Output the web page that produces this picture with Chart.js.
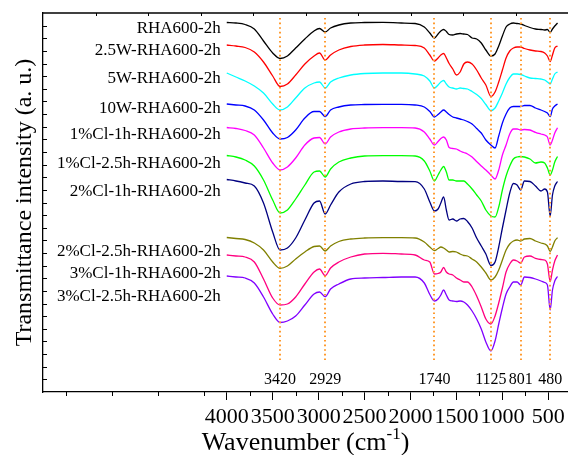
<!DOCTYPE html>
<html>
<head>
<meta charset="utf-8">
<title>FTIR spectra</title>
<script src="https://cdn.jsdelivr.net/npm/chart.js@4.4.1/dist/chart.umd.min.js"></script>
<style>
  html, body { margin: 0; padding: 0; background: #fff; }
  canvas { display: block; }
</style>
</head>
<body>
<canvas id="ftir" width="568" height="455"></canvas>
<script>
// FTIR spectra of RHA600-2h samples, stacked with vertical offsets (a. u.)

const wavenumbers = [4000, 3900, 3800, 3700, 3600, 3500, 3420, 3340, 3250, 3150,
    3050, 2990, 2929, 2870, 2780, 2650, 2500, 2300, 2100, 1950,
    1850, 1790, 1740, 1700, 1670, 1640, 1610, 1580, 1540, 1500,
    1460, 1420, 1380, 1330, 1280, 1230, 1180, 1125, 1080, 1040,
    1000, 960, 920, 880, 840, 801, 760, 700, 640, 580,
    540, 510, 480, 455, 430, 400];

const rha600 = [369.5, 369, 367.5, 363, 351, 339, 333.5, 336, 344, 353,
    361, 363.5, 360, 364, 367, 369, 369.5, 369.7, 369, 368.5,
    365, 359, 354, 358, 361, 362.5, 360.5, 357.5, 357, 358,
    358.5, 358, 357.5, 354, 353, 349, 342, 336, 338, 346,
    356, 365, 368, 369, 368.5, 368, 366.5, 364.5, 363, 362.5,
    362, 362.5, 359.5, 363, 366, 369];

const w25 = [347, 346, 344.5, 340, 330, 316, 305.5, 308, 317, 328,
    336, 339, 332, 337, 342, 345.5, 347, 347.5, 347, 346.5,
    344, 337, 331, 334, 337, 338.5, 334, 328.5, 323, 317,
    320, 328, 330, 328, 322, 314, 307, 295.5, 300, 310,
    322, 334, 341, 344, 345, 345, 343.5, 342, 341, 340.5,
    339, 336, 330.5, 337, 344, 346];

const w5 = [319, 315, 311, 306, 299, 288, 282, 285, 294, 304,
    309, 310, 304, 310, 314, 317, 318.5, 319, 319, 318,
    316, 311, 304, 307, 310, 311.5, 308, 305, 304, 303,
    304, 303.5, 303, 300.5, 297.5, 293.5, 287.5, 281.5, 284, 291,
    299, 308, 314.5, 318, 318, 317.5, 316, 314, 313.5, 313,
    312, 310, 308, 313, 318, 320];

const w10 = [288, 287, 286, 282, 272, 259, 253, 254.5, 262, 274,
    280.5, 280.5, 275.5, 282, 285, 287, 287.5, 287.7, 287.7, 287,
    285, 280.5, 275, 277.5, 280, 282, 280, 277.5, 275, 274,
    273, 272, 270.5, 268, 263.5, 259, 252, 247, 244, 256,
    269, 278, 284, 285.5, 285.5, 285.5, 286.5, 286.5, 284, 282,
    280.5, 279, 275.3, 283, 286, 288];

const cl1_1h = [264.5, 263.5, 261.5, 257, 244, 229, 222, 225, 234, 247,
    254, 254.5, 248, 255, 260, 263, 264, 264.3, 264.3, 264,
    260, 253, 247, 250.5, 253.5, 255, 252, 244.5, 243.5, 243,
    241, 239.5, 238, 235, 230.5, 226, 222, 217, 213, 222,
    237, 247, 258, 263, 263, 262, 262.5, 262, 259.7, 258,
    257, 255, 247, 252, 259, 264.3];

const cl1_25h = [236.5, 235, 232, 226, 212, 192, 179, 182, 193, 207,
    220, 221, 215, 223, 230, 234, 236, 236.3, 236.3, 236,
    231, 221, 211, 217, 222, 225.5, 220, 212, 212, 211,
    211, 211, 208, 203, 197, 191, 182, 176, 175, 185,
    202, 216, 226, 233, 235, 235.5, 235, 233, 229, 230,
    229, 224, 217, 222, 230, 235.5];

const cl2_1h = [212.5, 211, 209, 206, 189, 160, 142, 144, 154, 172,
    189, 191, 178, 187, 200, 208, 210.5, 211, 210.5, 210.3,
    203, 190, 181, 183, 189, 195, 182, 172, 173, 171,
    173, 173.5, 170.5, 164, 154, 146, 138, 126.5, 130, 145,
    164, 182, 199, 208.5, 207, 202, 211, 210.5, 206, 201,
    203, 200, 176, 197, 206, 210.5];

const cl2_25h = [154.5, 153.5, 152.5, 149, 142, 130, 123.7, 126, 133, 140,
    145.5, 146, 141, 146, 150.5, 153, 154, 154.3, 154.3, 154,
    150, 145, 141.3, 143.5, 145, 144, 142, 140, 140.5, 140,
    138, 136.5, 136, 133, 130, 125, 119, 112, 115, 122,
    132, 142, 148, 151, 152, 151, 153, 153.5, 151, 149,
    148, 146, 140.5, 145, 151, 154.3];

const cl3_1h = [137, 136, 135, 130, 113, 94, 87, 88, 95, 108,
    120, 123, 116.3, 124, 130, 135, 138, 138.7, 138, 137,
    132, 130, 118, 118.5, 120, 124.5, 120, 118, 117, 114,
    112, 110, 110, 105, 96, 85, 73, 68, 76, 89,
    104, 120, 128, 132, 131, 128.7, 135, 136, 133.7, 132.5,
    132, 128, 110.3, 122, 131, 137];

const cl3_25h = [116, 115, 114, 109, 95, 78, 69.5, 71, 76, 87,
    98, 100, 95.3, 103, 108, 113, 114, 114.5, 115, 115,
    109, 97.5, 91, 93, 97, 102, 97, 92, 91, 90.5,
    91, 90, 87, 81, 73, 63, 50, 41, 51, 68,
    84, 98, 105, 110, 110, 107, 115, 114.5, 113, 111,
    109.5, 107, 82, 102, 111, 115.5];

const sampleNames = ['RHA600-2h', '2.5W-RHA600-2h', '5W-RHA600-2h', '10W-RHA600-2h',
    '1%Cl-1h-RHA600-2h', '1%Cl-2.5h-RHA600-2h', '2%Cl-1h-RHA600-2h',
    '2%Cl-2.5h-RHA600-2h', '3%Cl-1h-RHA600-2h', '3%Cl-2.5h-RHA600-2h'];
const sampleSeries = [rha600, w25, w5, w10, cl1_1h, cl1_25h, cl2_1h, cl2_25h, cl3_1h, cl3_25h];
const sampleColors = ['#000000', '#ff0000', '#00ffff', '#0000ff', '#ff00ff',
    '#00ff00', '#000080', '#808000', '#ff0080', '#8000ff'];

// marked absorption bands (cm-1)
const bands = [3420, 2929, 1740, 1125, 801, 480];
const xTickValues = [500, 1000, 1500, 2000, 2500, 3000, 3500, 4000];

const SERIF = "'Liberation Serif', 'Times New Roman', serif";
Chart.defaults.font.family = SERIF;
Chart.defaults.color = '#000';

// sample name anchors on the y scale, next to the start of each curve
const labelLevels = [363.5, 341.3, 313, 283, 257, 228.5, 200, 140.5, 118.5, 95.5];

const sampleLabels = {
    id: 'sampleLabels',
    afterDatasetsDraw(chart) {
        const { ctx, scales: { x, y } } = chart;
        const right = x.getPixelForValue(wavenumbers[0]) - 6;
        ctx.save();
        ctx.font = `17px ${SERIF}`;
        ctx.fillStyle = '#000';
        ctx.textAlign = 'right';
        ctx.textBaseline = 'middle';
        sampleNames.forEach((name, i) => {
            ctx.fillText(name, right, y.getPixelForValue(labelLevels[i]));
        });
        ctx.restore();
    }
};

const bandMarkers = {
    id: 'bandMarkers',
    afterDatasetsDraw(chart) {
        const { ctx, chartArea, scales: { x } } = chart;
        ctx.save();
        ctx.strokeStyle = '#ff9a2e';
        ctx.lineWidth = 2;
        ctx.setLineDash([1.6, 3]);
        bands.forEach(b => {
            const px = Math.round(x.getPixelForValue(b));
            ctx.beginPath();
            ctx.moveTo(px, chartArea.top + 5);
            ctx.lineTo(px, chartArea.bottom - 30);
            ctx.stroke();
        });
        ctx.setLineDash([]);
        ctx.font = `16px ${SERIF}`;
        ctx.fillStyle = '#000';
        ctx.textAlign = 'center';
        ctx.textBaseline = 'middle';
        bands.forEach(b => {
            ctx.fillText(String(b), x.getPixelForValue(b), chartArea.bottom - 12);
        });
        ctx.restore();
    }
};

// top border, inward y ticks, minor x ticks and the x title with superscript
const frame = {
    id: 'frame',
    afterDraw(chart) {
        const { ctx, chartArea: a, scales: { x } } = chart;
        ctx.save();
        ctx.strokeStyle = '#000';
        ctx.lineWidth = 1.3;
        ctx.beginPath();
        ctx.moveTo(a.left, a.top);
        ctx.lineTo(a.right, a.top);
        ctx.stroke();

        ctx.lineWidth = 1;
        ctx.beginPath();
        for (let i = 1; i < 10; i++) {
            const px = Math.round(a.left + i * (a.right - a.left) / 10) + 0.5;
            ctx.moveTo(px, a.top);
            ctx.lineTo(px, a.top + 3);
        }
        for (let i = 1; i < 30; i++) {
            const py = Math.round(a.bottom - i * (a.bottom - a.top) / 30) + 0.5;
            ctx.moveTo(a.left, py);
            ctx.lineTo(a.left + 4, py);
        }
        for (let v = 750; v < 6000; v += 500) {
            const px = Math.round(x.getPixelForValue(v)) + 0.5;
            ctx.moveTo(px, a.bottom);
            ctx.lineTo(px, a.bottom + 4);
        }
        ctx.stroke();

        // "Wavenumber (cm-1)"
        const main = 'Wavenumber (cm';
        const sup = '-1';
        ctx.fillStyle = '#000';
        ctx.textBaseline = 'alphabetic';
        ctx.textAlign = 'left';
        ctx.font = `26px ${SERIF}`;
        const wMain = ctx.measureText(main).width;
        const wClose = ctx.measureText(')').width;
        ctx.font = `17px ${SERIF}`;
        const wSup = ctx.measureText(sup).width;
        const cx = (a.left + a.right) / 2;
        let tx = cx - (wMain + wSup + wClose) / 2;
        const base = 450;
        ctx.font = `26px ${SERIF}`;
        ctx.fillText(main, tx, base);
        tx += wMain;
        ctx.font = `17px ${SERIF}`;
        ctx.fillText(sup, tx, base - 11);
        tx += wSup;
        ctx.font = `26px ${SERIF}`;
        ctx.fillText(')', tx, base);
        ctx.restore();
    }
};

const datasets = sampleSeries.map((values, i) => ({
    label: sampleNames[i],
    data: wavenumbers.map((w, j) => ({ x: w, y: values[j] })),
    borderColor: sampleColors[i],
    borderWidth: 1.3,
    pointRadius: 0,
    fill: false,
    cubicInterpolationMode: 'monotone'
}));

new Chart(document.getElementById('ftir'), {
    type: 'line',
    data: { datasets },
    options: {
        responsive: false,
        animation: false,
        layout: { padding: { top: 13, right: 0, bottom: 0, left: 0 } },
        plugins: { legend: { display: false }, tooltip: { enabled: false } },
        scales: {
            x: {
                type: 'linear',
                reverse: true,
                min: 286,
                max: 6000,
                afterBuildTicks: s => { s.ticks = xTickValues.map(v => ({ value: v })); },
                afterFit: s => { s.height = 63; },
                ticks: {
                    font: { size: 22 },
                    color: '#000',
                    padding: 4,
                    autoSkip: false,
                    maxRotation: 0,
                    minRotation: 0,
                    callback: v => String(v)
                },
                grid: { drawOnChartArea: false, drawTicks: true, tickLength: 8, color: '#000', tickWidth: 1 },
                border: { color: '#000', width: 1.3 }
            },
            y: {
                min: 0,
                max: 379,
                afterFit: s => { s.width = 43; },
                ticks: { display: false },
                grid: { display: false },
                border: { color: '#000', width: 1.3 },
                title: {
                    display: true,
                    text: 'Transmittance intensity (a. u.)',
                    font: { size: 24 },
                    color: '#000',
                    padding: { top: 10, bottom: 0 }
                }
            }
        }
    },
    plugins: [bandMarkers, sampleLabels, frame]
});
</script>
</body>
</html>
